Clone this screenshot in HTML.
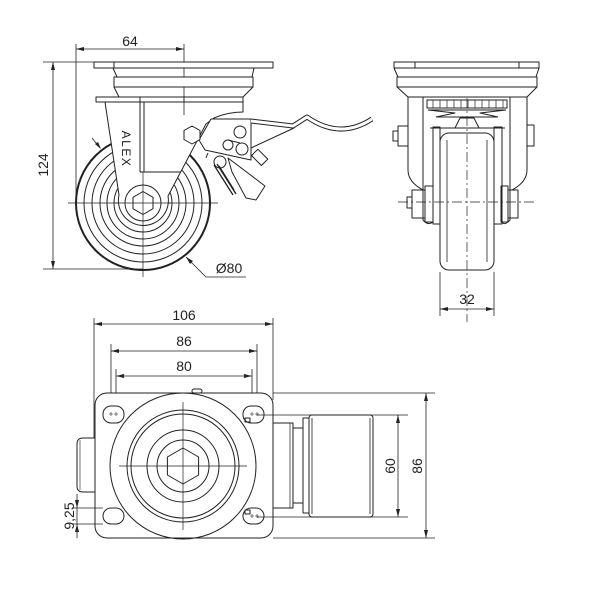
<!DOCTYPE html>
<html><head><meta charset="utf-8"><style>html,body{margin:0;padding:0;background:#fff}svg{display:block}</style></head>
<body>
<svg width="600" height="600" viewBox="0 0 600 600" xmlns="http://www.w3.org/2000/svg">
<rect width="600" height="600" fill="#fff"/>
<g stroke="#222" stroke-width="1" fill="none" stroke-linejoin="round">

<!-- ================= SIDE VIEW ================= -->
<line x1="76" y1="44" x2="76" y2="203" stroke-width="0.8"/>
<line x1="184" y1="44" x2="184" y2="115" stroke-width="0.8"/>
<line x1="76" y1="49" x2="184" y2="49" stroke-width="0.8"/>
<polygon points="76,49 84,47 84,51" fill="#222" stroke="none"/>
<polygon points="184,49 176,47 176,51" fill="#222" stroke="none"/>
<line x1="43" y1="62" x2="94" y2="62" stroke-width="0.8"/>
<line x1="43" y1="269" x2="143" y2="269" stroke-width="0.8"/>
<line x1="53" y1="62" x2="53" y2="269" stroke-width="0.8"/>
<polygon points="53,62 51,70 55,70" fill="#222" stroke="none"/>
<polygon points="53,269 51,261 55,261" fill="#222" stroke="none"/>

<rect x="94" y="62" width="179" height="6" fill="#fff"/>
<line x1="114" y1="62" x2="114" y2="68"/>
<path d="M113,68 L117,77 M254,68 L252,77"/>
<rect x="114" y="77" width="139" height="10" fill="#fff"/>
<path d="M114,87 L119,97 L243,97 L253,87"/>
<line x1="243" y1="97" x2="243" y2="112"/>

<circle cx="143" cy="203" r="67" stroke-width="2"/>
<circle cx="143" cy="203" r="59"/>
<circle cx="143" cy="203" r="51"/>
<circle cx="143" cy="203" r="43"/>
<circle cx="143" cy="203" r="36"/>
<circle cx="143" cy="203" r="29"/>
<line x1="68" y1="203" x2="218" y2="203" stroke-width="0.7"/>
<line x1="143" y1="235" x2="143" y2="277" stroke-width="0.7"/>

<path d="M105,102 L243,102 L243,112 Q228,112 214,118 L206,124 L168,196 A25,25 0 1 1 119,195 Z" fill="#fff"/>
<rect x="96" y="97" width="44" height="5" fill="#fff"/>
<line x1="140" y1="97" x2="243" y2="97"/>
<line x1="140" y1="102" x2="140" y2="172"/>
<line x1="144" y1="102" x2="144" y2="172"/>
<line x1="140" y1="172" x2="181" y2="172"/>
<circle cx="143" cy="203" r="18"/>
<polygon points="143,191.5 153,197.3 153,208.7 143,214.5 133,208.7 133,197.3" fill="#fff"/>
<line x1="115" y1="203" x2="171" y2="203" stroke-width="0.7"/>
<line x1="143" y1="172" x2="143" y2="235" stroke-width="0.7"/>
<line x1="184" y1="97" x2="184" y2="115" stroke-width="0.8"/>
<text x="0" y="0" transform="translate(122,149) rotate(90)" font-family="Liberation Sans, sans-serif" font-size="12" letter-spacing="1.5" fill="#222" stroke="none" text-anchor="middle">ALEX</text>

<path d="M211,119 L251,119 L251,160 L205,150 L199,140 Z" fill="#fff"/>
<polygon points="192,126 200,130.5 200,139.5 192,144 184,139.5 184,130.5" fill="#fff"/>
<circle cx="240" cy="132" r="6"/>
<circle cx="228" cy="145" r="5"/>
<circle cx="242" cy="149" r="6" fill="#fff"/>
<line x1="228" y1="140" x2="240" y2="143"/>
<path d="M251,121 L293,126 L307,117 Q340,140 372,119" stroke-width="5"/>
<path d="M251,121 L293,126 L307,117 Q340,140 372,119" stroke="#fff" stroke-width="3"/>
<line x1="251" y1="148" x2="294" y2="128"/>
<rect x="255" y="150" width="9" height="14" transform="rotate(-45 260 157)" fill="#fff"/>
<circle cx="220" cy="162" r="6" fill="#fff"/>
<path d="M228,158 L265,186 L256,200 L246,198 L232,172 Z" fill="#fff"/>
<path d="M214,165 L233,195 M217,164 L236,194 M219,166 L234,190" stroke-width="1.3"/>
<path d="M206,158 l2,-5" stroke-width="1"/>
<line x1="92" y1="138" x2="100" y2="148" stroke-width="0.8"/>
<polygon points="101,149 95,144 98,142" fill="#222" stroke="none"/>
<polyline points="186,257 206,277 246,277" stroke-width="0.8"/>
<polygon points="186,257 193,261 190,264" fill="#222" stroke="none"/>

<!-- ================= FRONT VIEW ================= -->
<rect x="394" y="62" width="145" height="6" fill="#fff"/>
<path d="M415,62 L415,68 M519,62 L519,68"/>
<path d="M394,68 L398,77 M539,68 L536,77"/>
<rect x="397" y="77" width="140" height="10"/>
<path d="M397,87 L408,97 L527,97 L537,87"/>
<path d="M408,97 L408,170 Q408,182 423,190"/>
<path d="M527,97 L527,170 Q527,182 512,190"/>
<path d="M423,97 L423,220 Q428,226 433,222"/>
<path d="M510,97 L510,220 Q505,226 501,222"/>
<rect x="427" y="100" width="80" height="8"/>
<path d="M433,100 v8 M440,100 v8 M447,100 v8 M454,100 v8 M461,100 v8 M468,100 v8 M475,100 v8 M482,100 v8 M489,100 v8 M496,100 v8 M503,100 v8" stroke-width="0.7"/>
<path d="M428,110 L506,110 M436,117 L498,117 M430,128 L505,128"/>
<path d="M428,110 L455,113 L436,117 M506,110 L480,113 L498,117"/>
<polygon points="455,128 460,118 474,118 479,128"/>
<rect x="433" y="127" width="7" height="97"/>
<rect x="494" y="127" width="8" height="97"/>
<rect x="440" y="133" width="54" height="137" rx="9" fill="#fff"/>
<path d="M447,140 L447,262 M487,140 L487,262" stroke-width="0.8"/>
<line x1="467" y1="98" x2="467" y2="322" stroke-width="0.7" stroke-dasharray="10,3,2,3"/>
<line x1="398" y1="202" x2="537" y2="202" stroke-width="0.7" stroke-dasharray="10,3,2,3"/>
<rect x="393" y="131" width="5" height="10"/>
<rect x="398" y="126" width="10" height="20"/>
<rect x="527" y="125" width="7" height="21"/>
<rect x="407" y="197" width="5" height="11"/>
<rect x="412" y="190" width="13" height="28"/>
<rect x="425" y="186" width="8" height="36"/>
<rect x="501" y="186" width="7" height="36"/>
<rect x="508" y="190" width="10" height="28"/>
<line x1="440" y1="272" x2="440" y2="316" stroke-width="0.8"/>
<line x1="494" y1="272" x2="494" y2="316" stroke-width="0.8"/>
<line x1="440" y1="309" x2="494" y2="309" stroke-width="0.8"/>
<polygon points="440,309 448,307 448,311" fill="#222" stroke="none"/>
<polygon points="494,309 486,307 486,311" fill="#222" stroke="none"/>

<!-- ================= BOTTOM VIEW ================= -->
<line x1="94" y1="318" x2="94" y2="440" stroke-width="0.8"/>
<line x1="273" y1="318" x2="273" y2="400" stroke-width="0.8"/>
<line x1="94" y1="324" x2="273" y2="324" stroke-width="0.8"/>
<polygon points="94,324 102,322 102,326" fill="#222" stroke="none"/>
<polygon points="273,324 265,322 265,326" fill="#222" stroke="none"/>
<line x1="111" y1="344" x2="111" y2="415" stroke-width="0.8"/>
<line x1="257" y1="344" x2="257" y2="415" stroke-width="0.8"/>
<line x1="111" y1="351" x2="257" y2="351" stroke-width="0.8"/>
<polygon points="111,351 119,349 119,353" fill="#222" stroke="none"/>
<polygon points="257,351 249,349 249,353" fill="#222" stroke="none"/>
<line x1="116" y1="369" x2="116" y2="415" stroke-width="0.8"/>
<line x1="252" y1="369" x2="252" y2="415" stroke-width="0.8"/>
<line x1="116" y1="376" x2="252" y2="376" stroke-width="0.8"/>
<polygon points="116,376 124,374 124,378" fill="#222" stroke="none"/>
<polygon points="252,376 244,374 244,378" fill="#222" stroke="none"/>

<path d="M95,438 L83,438 Q77,438 77,444 L77,486 Q77,492 83,492 L95,492" fill="#fff"/>
<line x1="80" y1="440" x2="80" y2="490" stroke-width="0.6"/>
<rect x="95" y="393" width="178" height="145" rx="12" fill="#fff"/>
<rect x="192" y="389" width="10" height="4" rx="2"/>
<rect x="103" y="406" width="21" height="17" rx="8"/>
<rect x="103" y="508" width="21" height="16" rx="8"/>
<rect x="243" y="406" width="21" height="17" rx="8"/>
<rect x="243" y="508" width="21" height="16" rx="8"/>
<path d="M109,414 h4 M111,412 v4 M114,414 h4 M116,412 v4 M250,414 h4 M252,412 v4 M255,414 h4 M257,412 v4 M250,516 h4 M252,514 v4 M255,516 h4 M257,514 v4" stroke-width="0.6"/>
<rect x="245" y="418" width="5" height="4"/>
<rect x="245" y="510" width="5" height="4"/>
<circle cx="183" cy="466" r="73"/>
<circle cx="183" cy="466" r="56"/>
<circle cx="183" cy="466" r="52"/>
<circle cx="183" cy="466" r="36"/>
<circle cx="183" cy="466" r="26"/>
<polygon points="183,448 198.6,457 198.6,475 183,484 167.4,475 167.4,457"/>
<line x1="119" y1="466" x2="247" y2="466" stroke-width="0.7"/>
<line x1="183" y1="402" x2="183" y2="530" stroke-width="0.7"/>
<rect x="273" y="423" width="20" height="85"/>
<line x1="290" y1="423" x2="290" y2="508" stroke-width="0.7"/>
<rect x="293" y="428" width="10" height="75"/>
<rect x="303" y="418" width="6" height="95"/>
<rect x="309" y="415" width="64" height="102" rx="3" fill="#fff"/>
<path d="M312,418 L312,514 M370,418 L370,514" stroke-width="0.8"/>
<line x1="257" y1="415" x2="408" y2="415" stroke-width="0.8"/>
<line x1="257" y1="517" x2="408" y2="517" stroke-width="0.8"/>
<line x1="398" y1="415" x2="398" y2="517" stroke-width="0.8"/>
<polygon points="398,415 396,423 400,423" fill="#222" stroke="none"/>
<polygon points="398,517 396,509 400,509" fill="#222" stroke="none"/>
<line x1="273" y1="393" x2="435" y2="393" stroke-width="0.8"/>
<line x1="273" y1="538" x2="435" y2="538" stroke-width="0.8"/>
<line x1="426" y1="393" x2="426" y2="538" stroke-width="0.8"/>
<polygon points="426,393 424,401 428,401" fill="#222" stroke="none"/>
<polygon points="426,538 424,530 428,530" fill="#222" stroke="none"/>
<line x1="72" y1="508" x2="103" y2="508" stroke-width="0.8"/>
<line x1="72" y1="524" x2="103" y2="524" stroke-width="0.8"/>
<line x1="77" y1="494" x2="77" y2="538" stroke-width="0.8"/>
<polygon points="77,508 75,500 79,500" fill="#222" stroke="none"/>
<polygon points="77,524 75,532 79,532" fill="#222" stroke="none"/>
</g>

<g font-family="Liberation Sans, Arial, sans-serif" font-size="14" fill="#222" text-anchor="middle">
<text x="130" y="46">64</text>
<text transform="translate(48,165) rotate(-90)">124</text>
<text x="229" y="273">Ø80</text>
<text x="467" y="304">32</text>
<text x="184" y="320">106</text>
<text x="184" y="346">86</text>
<text x="184" y="371">80</text>
<text transform="translate(395,466) rotate(-90)">60</text>
<text transform="translate(422,466) rotate(-90)">86</text>
<text transform="translate(74,516) rotate(-90)">9,25</text>
</g>
</svg>
</body></html>
